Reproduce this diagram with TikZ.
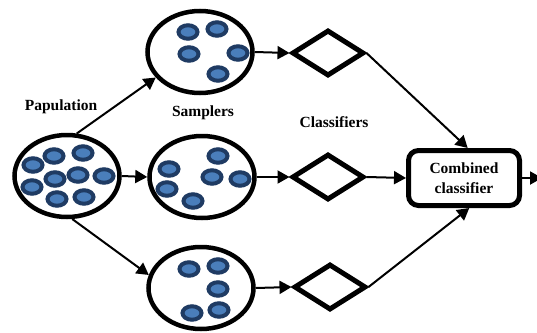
\documentclass[tikz,border=0pt]{standalone}
\usepackage{fontspec}
\setmainfont{Liberation Serif}
\usetikzlibrary{shapes.geometric,arrows.meta,calc}
\definecolor{celldark}{HTML}{1F3B63}
\definecolor{celllight}{HTML}{4A7EBB}
\begin{document}
\begin{tikzpicture}[x=1pt,y=-1pt,
  group/.style={draw, ellipse, line width=4.5pt, inner sep=0pt,
                minimum width=105pt, minimum height=82pt},
  cell/.style={ellipse, draw=celldark, fill=celllight, line width=4pt,
               minimum width=19pt, minimum height=13.5pt, inner sep=0pt},
  classifier/.style={draw, diamond, line width=5pt, inner sep=0pt,
                     minimum width=72pt, minimum height=46pt},
  link/.style={line width=2pt, -{Triangle[length=12pt,width=13pt]}},
  caption/.style={font=\fontsize{15.5}{20}\selectfont\bfseries, align=center}]
\clip (0,0) rectangle (537,332);

% population and the three samples
\node[group] (pop) at (67,176) {};
\node[group] (s1) at (200,52) {};
\node[group] (s2) at (202,177) {};
\node[group] (s3) at (201,288) {};

% members inside each ellipse
\foreach \x/\y [count=\i] in {33/165, 54/156, 83/153, 32/187, 55/179, 78/175, 104/176, 57/199, 84/197}
  \node[cell] (p\i) at (\x,\y) {};
\foreach \x/\y [count=\i] in {188/32, 217/29, 189/54, 238/53, 218/74}
  \node[cell] (a\i) at (\x,\y) {};
\foreach \x/\y [count=\i] in {169/169, 218/156, 167/189, 212/177, 240/179, 193/201}
  \node[cell] (b\i) at (\x,\y) {};
\foreach \x/\y [count=\i] in {189/269, 218/266, 218/289, 192/313, 219/310}
  \node[cell] (c\i) at (\x,\y) {};

% classifiers
\node[classifier] (d1) at (328,53) {};
\node[classifier] (d2) at (328,177) {};
\node[classifier] (d3) at (330,287) {};

% combiner
\node[draw, rounded corners=10pt, line width=5pt, minimum width=111pt,
      minimum height=55pt, inner sep=0pt, caption] (box) at (464,178)
      {Combined\\classifier};
\coordinate (out) at (542,178);

% captions
\node[caption] (tpop) at (61,107) {Papulation};
\node[caption] (tsam) at (203,113) {Samplers};
\node[caption] (tcls) at (334,122) {Classifiers};

% connectors
\draw[link] (pop.77) -- (s1.210);
\draw[link] (pop.east) -- (s2.west);
\draw[link] (pop.277) -- (s3.166);
\draw[link] (s1.east) -- (d1.west);
\draw[link] (s2.east) -- (d2.west);
\draw[link] (s3.east) -- (d3.west);
\draw[link] (d1.east) -- (box.83);
\draw[link] (d2.east) -- (box.west);
\draw[link] (d3.east) -- (box.-80);
\draw[link] (box.east) -- (out);
\end{tikzpicture}
\end{document}
